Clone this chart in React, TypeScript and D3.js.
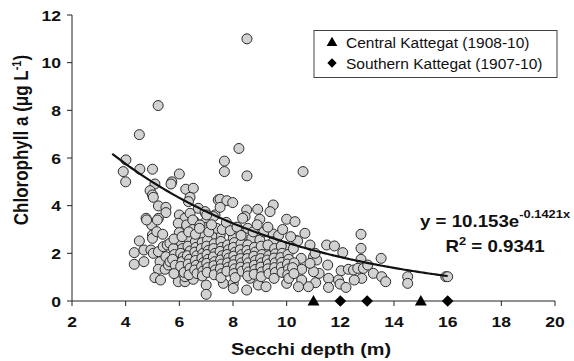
import React from "react";
import * as d3 from "d3";

const xTicks = [2, 4, 6, 8, 10, 12, 14, 16, 18, 20];
const yTicks = [0, 2, 4, 6, 8, 10, 12];

// Chlorophyll a vs Secchi depth (reading from the figure)
const secchi: number[] = [];
const chl: number[] = [];
const pts: [number, number][] = [
  [8.52, 11.0], [5.21, 8.2], [4.51, 6.98], [8.22, 6.4], [7.68, 5.87], [7.68, 5.43], [8.52, 5.25], [10.61, 5.43],
  [4.01, 5.92], [3.91, 5.43], [4.0, 5.0], [4.53, 5.53], [5.0, 5.53], [6.0, 5.33], [5.72, 5.0], [5.69, 4.91],
  [5.09, 4.91], [4.91, 4.63], [5.0, 4.45], [5.03, 4.35], [6.24, 4.69], [6.52, 4.73], [6.4, 4.35], [6.34, 4.17],
  [5.22, 3.99], [5.5, 3.93], [5.5, 3.71], [4.76, 3.47], [5.22, 3.47], [4.97, 3.19], [6.0, 3.61], [6.0, 3.23],
  [6.21, 3.47], [6.4, 3.68], [6.56, 3.33], [6.71, 3.89], [6.98, 3.68], [6.96, 3.3], [7.33, 3.61], [7.45, 4.24],
  [6.96, 3.75], [7.52, 4.27], [7.77, 4.21], [7.99, 4.13], [7.52, 3.93], [8.51, 3.82], [8.45, 3.54], [8.92, 3.85],
  [9.0, 3.43], [9.5, 4.03], [9.38, 3.75], [10.0, 3.43], [10.31, 3.33], [8.36, 3.47], [6.96, 3.09], [7.52, 2.77],
  [8.01, 2.77], [8.01, 2.63], [8.45, 2.77], [8.7, 2.63], [9.0, 2.56], [9.5, 2.81], [9.5, 2.49], [10.37, 2.53],
  [10.0, 2.21], [9.32, 2.14], [9.0, 2.07],
  [7.0, 0.67], [7.0, 0.28], [7.64, 0.74], [8.01, 0.74], [8.01, 0.53], [8.51, 0.46], [8.94, 0.67], [9.23, 0.6],
  [8.63, 0.95], [10.0, 0.74], [6.52, 0.95],
  [4.32, 2.03], [4.32, 1.54], [4.51, 2.52], [4.68, 2.14], [4.68, 1.65], [4.78, 3.4], [5.18, 3.4], [5.0, 2.77],
  [5.0, 2.63], [5.16, 2.91], [5.38, 2.8], [4.94, 2.14], [5.03, 2.0], [5.22, 2.07], [5.4, 2.28], [5.28, 1.65],
  [5.22, 1.33], [5.09, 0.98], [5.3, 0.88], [5.47, 1.33], [5.59, 1.51], [5.5, 1.86], [5.55, 2.35], [5.65, 2.42],
  [5.96, 3.26], [6.0, 2.87], [6.27, 3.19], [6.27, 2.77], [6.5, 3.4], [6.5, 3.0], [6.77, 3.19], [6.9, 2.77],
  [7.27, 3.54], [7.21, 2.73], [7.39, 3.05], [5.96, 0.81], [6.21, 0.81], [6.21, 1.02], [6.52, 0.91], [6.0, 1.3],
  [5.65, 1.65],
  [10.68, 2.84], [10.41, 2.52], [10.87, 2.35], [11.49, 2.35], [11.78, 2.31], [12.09, 2.03], [12.77, 2.8], [12.77, 2.21],
  [12.77, 1.75], [13.52, 1.79], [10.54, 1.79], [11.0, 1.86], [11.12, 1.72], [11.53, 1.51], [12.03, 1.27], [12.3, 1.33],
  [12.49, 1.3], [12.65, 1.37], [12.86, 1.37], [13.02, 1.51], [13.23, 1.16], [13.54, 1.02], [13.69, 0.81], [12.8, 0.95],
  [12.52, 0.88], [11.93, 0.88], [11.56, 0.95], [11.56, 0.57], [11.99, 0.71], [12.21, 0.57], [11.08, 0.77], [10.81, 0.6],
  [14.51, 1.02], [14.51, 0.74], [15.93, 1.02], [10.56, 1.33], [10.56, 0.88], [10.44, 0.6], [11.21, 1.16], [11.0, 1.23],
  [10.87, 1.58], [11.06, 2.0],
  [5.78, 2.2], [5.82, 1.95], [5.75, 1.75], [5.85, 1.5], [5.8, 1.15],
  [6.08, 2.45], [6.12, 2.2], [6.05, 2.0], [6.15, 1.85], [6.1, 1.65], [6.05, 1.45], [6.18, 1.2],
  [6.35, 2.6], [6.32, 2.3], [6.4, 2.1], [6.3, 1.9], [6.38, 1.75], [6.33, 1.55], [6.4, 1.38], [6.36, 1.1],
  [6.6, 2.5], [6.62, 2.25], [6.58, 2.05], [6.65, 1.9], [6.6, 1.7], [6.63, 1.5], [6.57, 1.3], [6.66, 1.15],
  [6.85, 2.45], [6.82, 2.2], [6.88, 2.0], [6.84, 1.8], [6.9, 1.62], [6.83, 1.45], [6.88, 1.25], [6.86, 1.05],
  [7.05, 2.55], [7.02, 2.3], [7.08, 2.12], [7.03, 1.95], [7.07, 1.75], [7.02, 1.58], [7.06, 1.4], [7.04, 1.2],
  [7.3, 2.4], [7.28, 2.2], [7.33, 2.0], [7.27, 1.85], [7.32, 1.65], [7.29, 1.48], [7.34, 1.3], [7.3, 1.1],
  [7.55, 2.5], [7.58, 2.25], [7.52, 2.08], [7.6, 1.9], [7.54, 1.72], [7.57, 1.55], [7.53, 1.35], [7.58, 1.15], [7.55, 0.98],
  [7.8, 2.35], [7.83, 2.15], [7.78, 1.95], [7.84, 1.8], [7.8, 1.6], [7.82, 1.42], [7.77, 1.25],
  [8.05, 2.45], [8.02, 2.25], [8.08, 2.05], [8.03, 1.88], [8.07, 1.7], [8.02, 1.52], [8.06, 1.35], [8.04, 1.15], [8.08, 0.98],
  [8.3, 2.4], [8.27, 2.15], [8.33, 1.95], [8.28, 1.78], [8.32, 1.6], [8.29, 1.42], [8.34, 1.25],
  [8.55, 2.35], [8.52, 2.12], [8.58, 1.95], [8.53, 1.78], [8.57, 1.6], [8.54, 1.4], [8.58, 1.22], [8.55, 1.05],
  [8.8, 2.25], [8.83, 2.05], [8.78, 1.88], [8.84, 1.7], [8.8, 1.5], [8.82, 1.32], [8.79, 1.12],
  [9.05, 2.3], [9.08, 1.95], [9.03, 1.78], [9.07, 1.6], [9.04, 1.42], [9.08, 1.22], [9.05, 1.02],
  [9.3, 2.35], [9.33, 1.9], [9.28, 1.72], [9.32, 1.55], [9.3, 1.35], [9.34, 1.15],
  [9.55, 2.2], [9.58, 1.98], [9.53, 1.8], [9.57, 1.6], [9.55, 1.4], [9.58, 1.2], [9.53, 0.95],
  [9.8, 2.3], [9.83, 2.0], [9.78, 1.82], [9.82, 1.62], [9.8, 1.42], [9.83, 1.2],
  [10.05, 1.95], [10.08, 1.75], [10.03, 1.55], [10.07, 1.35], [10.04, 1.1], [10.08, 0.95],
  [10.25, 2.2], [10.28, 1.6], [10.22, 1.4], [10.27, 1.15],
  [5.8, 2.6], [6.1, 2.7], [6.35, 2.9], [6.6, 2.8], [6.75, 3.05], [7.1, 2.9], [7.2, 3.2], [7.6, 3.0],
  [7.75, 3.3], [7.9, 2.95], [8.15, 3.1], [8.3, 2.75], [8.55, 3.05], [8.75, 2.9], [8.9, 3.2], [9.15, 2.9],
  [9.3, 3.1], [9.7, 2.75], [9.85, 3.0], [10.15, 2.7], [7.02, 3.61], [16.0, 1.02],
];
pts.forEach(([a, b]) => { secchi.push(a); chl.push(b); });

// Central Kattegat (1908-10) and Southern Kattegat (1907-10), Secchi depths
const centralDepths = [11, 15];
const southernDepths = [12, 13, 16];

// Fit: y = 10.153 e^(-0.1421x), R² = 0.9341
const fitA = 10.153;
const fitB = -0.1421;
const fitRange = [3.5, 16];

const legendLabels = ["Central Kattegat (1908-10)", "Southern Kattegat (1907-10)"];

const K = 1.17; // horizontal stretch of the original typesetting
const FONT = "'Liberation Sans', Arial, Helvetica, sans-serif";

function ST({ x, y, size, weight, anchor, children, rotate, k }: any) {
  const kk = k ?? K;
  const tr = rotate
    ? `translate(${x},${y}) scale(${kk},1) rotate(${rotate})`
    : `translate(${x},${y}) scale(${kk},1)`;
  return (
    <text transform={tr} fontSize={size} fontWeight={weight} textAnchor={anchor} fontFamily={FONT} fill="#111">
      {children}
    </text>
  );
}

export default function App() {
  const x = d3.scaleLinear().domain([2, 20]).range([72, 555]);
  const y = d3.scaleLinear().domain([0, 12]).range([301, 15]);

  const curveData = d3.range(fitRange[0], fitRange[1] + 0.001, 0.1).map((v) => [v, fitA * Math.exp(fitB * v)]);
  const line = d3.line<number[]>().x((d) => x(d[0])).y((d) => y(d[1])).curve(d3.curveBasis);

  const tri = d3.symbol().type(d3.symbolTriangle).size(62)()!;
  const dia = d3.symbol().type(d3.symbolSquare).size(68)()!;
  const triL = d3.symbol().type(d3.symbolTriangle).size(50)()!;
  const diaL = d3.symbol().type(d3.symbolSquare).size(44)()!;

  return (
    <svg width={574} height={361} style={{ position: "absolute", left: 0, top: 0, background: "#fff" }}>
      {/* points */}
      <g>
        {secchi.map((sx, i) => (
          <circle key={i} cx={x(sx)} cy={y(chl[i])} r={5} fill="#d2d2d2" stroke="#2a2a2a" strokeWidth={1} />
        ))}
      </g>
      {/* fit curve */}
      <path d={line(curveData as any)!} fill="none" stroke="#111" strokeWidth={2.2} />

      {/* axes */}
      <line x1={72} x2={72} y1={y(12)} y2={y(0)} stroke="#222" strokeWidth={1} />
      <line x1={72} x2={x(20)} y1={y(0)} y2={y(0)} stroke="#222" strokeWidth={1} />
      {yTicks.map((t) => (
        <g key={"y" + t}>
          <line x1={67} x2={72} y1={y(t)} y2={y(t)} stroke="#222" />
          <ST x={61} y={y(t) + 5.5} size={15} weight="bold" anchor="end">{t}</ST>
        </g>
      ))}
      {xTicks.map((t) => (
        <g key={"x" + t}>
          <line x1={x(t)} x2={x(t)} y1={y(0)} y2={y(0) + 5} stroke="#222" />
          <ST x={x(t)} y={327} size={15} weight="bold" anchor="middle">{t}</ST>
        </g>
      ))}

      {/* historic markers */}
      {centralDepths.map((d) => (
        <path key={"c" + d} d={tri} transform={`translate(${x(d)},${y(0) + 1})`} fill="#000" />
      ))}
      {southernDepths.map((d) => (
        <path key={"s" + d} d={dia} transform={`translate(${x(d)},${y(0)}) rotate(45)`} fill="#000" />
      ))}

      {/* axis titles */}
      <ST x={311} y={355} size={17} weight="bold" anchor="middle">Secchi depth (m)</ST>
      <ST x={28} y={140} size={17} weight="bold" anchor="middle" rotate={-90}>
        Chlorophyll a (μg L<tspan dy={-6} fontSize={11}>-1</tspan><tspan dy={6}>)</tspan>
      </ST>

      {/* legend */}
      <rect x={314} y={30.5} width={243} height={47} fill="#fff" stroke="#444" strokeWidth={1} />
      <path d={triL} transform={`translate(332,43)`} fill="#000" />
      <path d={diaL} transform={`translate(332,63) rotate(45)`} fill="#000" />
      <ST x={346} y={48} size={14.5} weight="normal" anchor="start" k={1.07}>{legendLabels[0]}</ST>
      <ST x={346} y={69} size={14.5} weight="normal" anchor="start" k={1.07}>{legendLabels[1]}</ST>

      {/* equation */}
      <ST x={495} y={227} size={16} weight="bold" anchor="middle">
        y = {fitA.toFixed(3)}e<tspan dy={-9} fontSize={11}>{fitB.toFixed(4)}x</tspan>
      </ST>
      <ST x={495} y={252} size={16} weight="bold" anchor="middle">
        R<tspan dy={-7} fontSize={11}>2</tspan><tspan dy={7}> = 0.9341</tspan>
      </ST>
    </svg>
  );
}
